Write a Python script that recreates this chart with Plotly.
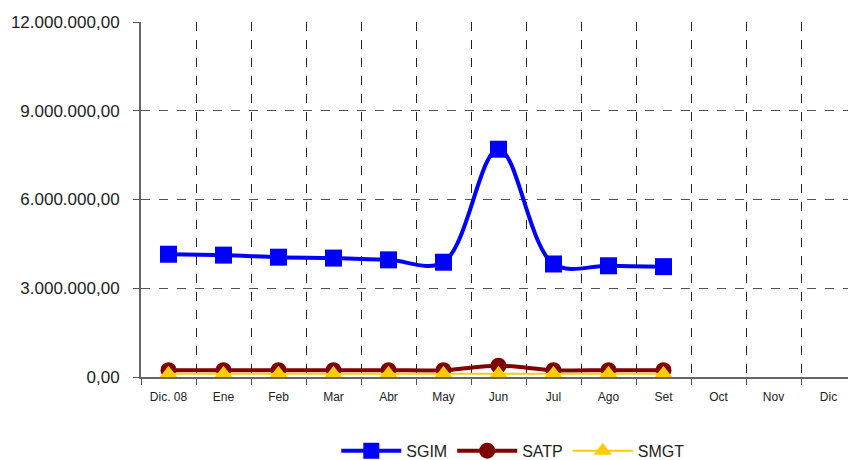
import plotly.graph_objects as go

months = ["Dic. 08", "Ene", "Feb", "Mar", "Abr", "May", "Jun", "Jul", "Ago", "Set", "Oct", "Nov", "Dic"]
sgim = [4150000, 4120000, 4050000, 4020000, 3960000, 3880000, 7700000, 3820000, 3760000, 3730000]
satp = [230000, 230000, 230000, 230000, 230000, 230000, 380000, 230000, 230000, 230000]
smgt = [110000, 110000, 110000, 110000, 110000, 110000, 110000, 110000, 110000, 110000]
y_ticks = [0, 3000000, 6000000, 9000000, 12000000]

fig = go.Figure()
fig.add_trace(go.Scatter(
    x=months[:len(sgim)], y=sgim, name="SGIM", mode="lines+markers",
    line=dict(color="#0000FF", width=4, shape="spline", smoothing=1.0),
    marker=dict(symbol="square", size=17, color="#0000FF")))
fig.add_trace(go.Scatter(
    x=months[:len(satp)], y=satp, name="SATP", mode="lines+markers",
    line=dict(color="#800000", width=4, shape="spline", smoothing=1.0),
    marker=dict(symbol="circle", size=16, color="#800000")))
fig.add_trace(go.Scatter(
    x=months[:len(smgt)], y=smgt, name="SMGT", mode="lines+markers",
    line=dict(color="#FFCC00", width=2, shape="spline", smoothing=1.0),
    marker=dict(symbol="triangle-up", size=16, color="#FFCC00")))

fig.update_layout(
    width=848, height=460,
    margin=dict(l=133, r=0, t=14, b=91),
    paper_bgcolor="white", plot_bgcolor="white",
    separators=",.",
    font=dict(family="Liberation Sans, Arial, sans-serif", color="#222222"),
    showlegend=True,
    legend=dict(orientation="h", x=0.52, xanchor="center", y=-0.16, yanchor="top",
                font=dict(size=16), itemwidth=60, tracegroupgap=0),
)
fig.update_xaxes(
    type="category", categoryorder="array", categoryarray=months,
    range=[-0.5, 12.5], tickson="boundaries", automargin=False,
    ticks="outside", ticklen=6, tickcolor="#555555", ticklabelstandoff=8,
    showgrid=True, gridcolor="#222222", griddash="dash", gridwidth=1,
    showline=True, linecolor="#666666", linewidth=2,
    tickfont=dict(size=12), zeroline=False,
)
fig.update_yaxes(
    range=[0, 12000000], tickvals=y_ticks, tickformat=",.2f", automargin=False,
    ticks="outside", ticklen=6, tickcolor="#555555", ticklabelstandoff=10,
    showgrid=True, gridcolor="#555555", griddash="dash", gridwidth=1,
    showline=True, linecolor="#666666", linewidth=2,
    tickfont=dict(size=17), zeroline=False,
)
fig.write_html("out.html")
